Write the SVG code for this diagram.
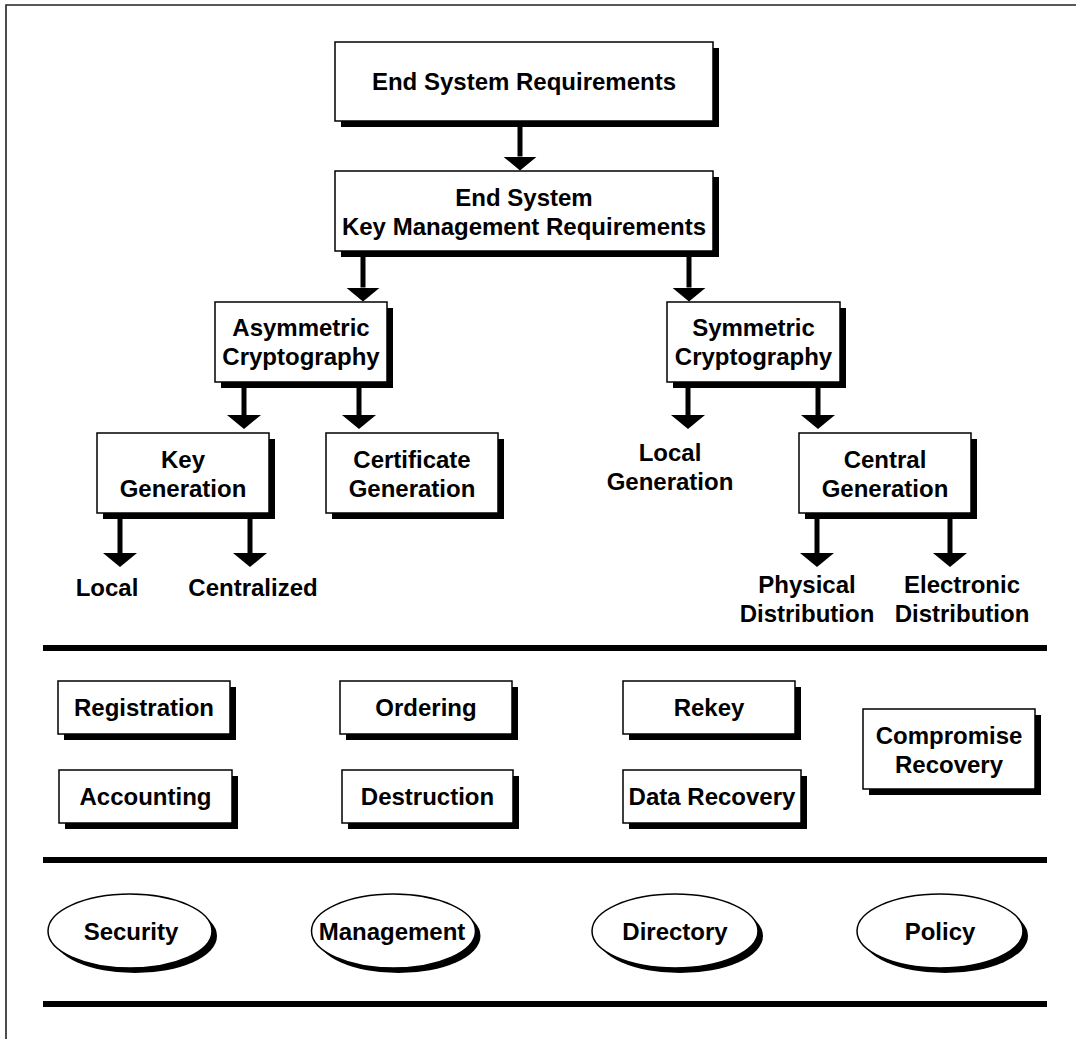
<svg xmlns="http://www.w3.org/2000/svg" width="1076" height="1039" viewBox="0 0 1076 1039">
<style>
.box{fill:#fff;stroke:#000;stroke-width:1.5}
.sh{fill:#000}
.t{font-family:"Liberation Sans",Arial,sans-serif;font-weight:bold;font-size:24px;fill:#000;text-anchor:middle}
.sep{stroke:#000;stroke-width:6}
.frame{stroke:#222;stroke-width:1.6;fill:none}
.ar{stroke:#000;stroke-width:5;fill:none;marker-end:url(#head)}
</style>
<defs>
<marker id="head" markerUnits="userSpaceOnUse" viewBox="0 -17 14 34" refX="0" refY="0" markerWidth="14" markerHeight="34" orient="auto">
<path d="M0,-17 L14,0 L0,17 Z" fill="#000"/>
</marker>
</defs>
<rect width="1076" height="1039" fill="#fff"/>
<path class="frame" d="M6,1039 V5 H1076"/>

<g id="separators">
<line class="sep" x1="43" y1="648" x2="1047" y2="648"/>
<line class="sep" x1="43" y1="860" x2="1047" y2="860"/>
<line class="sep" x1="43" y1="1004" x2="1047" y2="1004"/>
</g>

<g id="n-end-sys">
<rect class="sh" x="341" y="48" width="378" height="79"/>
<rect class="box" x="335" y="42" width="378" height="79"/>
<text class="t" x="524" y="90">End System Requirements</text>
</g>
<g id="n-keymgmt">
<rect class="sh" x="341" y="177" width="378" height="80"/>
<rect class="box" x="335" y="171" width="378" height="80"/>
<text class="t" x="524" y="206">End System</text>
<text class="t" x="524" y="235">Key Management Requirements</text>
</g>
<g id="n-asym">
<rect class="sh" x="221" y="308" width="172" height="80"/>
<rect class="box" x="215" y="302" width="172" height="80"/>
<text class="t" x="301" y="336">Asymmetric</text>
<text class="t" x="301" y="365">Cryptography</text>
</g>
<g id="n-sym">
<rect class="sh" x="673" y="308" width="173" height="80"/>
<rect class="box" x="667" y="302" width="173" height="80"/>
<text class="t" x="753.5" y="336">Symmetric</text>
<text class="t" x="753.5" y="365">Cryptography</text>
</g>
<g id="n-keygen">
<rect class="sh" x="103" y="439" width="172" height="80"/>
<rect class="box" x="97" y="433" width="172" height="80"/>
<text class="t" x="183" y="468">Key</text>
<text class="t" x="183" y="497">Generation</text>
</g>
<g id="n-certgen">
<rect class="sh" x="332" y="439" width="172" height="80"/>
<rect class="box" x="326" y="433" width="172" height="80"/>
<text class="t" x="412" y="468">Certificate</text>
<text class="t" x="412" y="497">Generation</text>
</g>
<g id="n-localgen">
<text class="t" x="670" y="461">Local</text>
<text class="t" x="670" y="490">Generation</text>
</g>
<g id="n-centralgen">
<rect class="sh" x="805" y="439" width="172" height="80"/>
<rect class="box" x="799" y="433" width="172" height="80"/>
<text class="t" x="885" y="468">Central</text>
<text class="t" x="885" y="497">Generation</text>
</g>
<g id="n-local">
<text class="t" x="107" y="596">Local</text>
</g>
<g id="n-centralized">
<text class="t" x="253" y="596">Centralized</text>
</g>
<g id="n-physdist">
<text class="t" x="807" y="593">Physical</text>
<text class="t" x="807" y="622">Distribution</text>
</g>
<g id="n-elecdist">
<text class="t" x="962" y="593">Electronic</text>
<text class="t" x="962" y="622">Distribution</text>
</g>

<g id="n-registration">
<rect class="sh" x="64" y="687" width="172" height="53"/>
<rect class="box" x="58" y="681" width="172" height="53"/>
<text class="t" x="144" y="716">Registration</text>
</g>
<g id="n-ordering">
<rect class="sh" x="346" y="687" width="172" height="53"/>
<rect class="box" x="340" y="681" width="172" height="53"/>
<text class="t" x="426" y="716">Ordering</text>
</g>
<g id="n-rekey">
<rect class="sh" x="629" y="687" width="172" height="53"/>
<rect class="box" x="623" y="681" width="172" height="53"/>
<text class="t" x="709" y="716">Rekey</text>
</g>
<g id="n-accounting">
<rect class="sh" x="65" y="776" width="173" height="53"/>
<rect class="box" x="59" y="770" width="173" height="53"/>
<text class="t" x="145.5" y="805">Accounting</text>
</g>
<g id="n-destruction">
<rect class="sh" x="348" y="776" width="171" height="53"/>
<rect class="box" x="342" y="770" width="171" height="53"/>
<text class="t" x="427.5" y="805">Destruction</text>
</g>
<g id="n-datarecovery">
<rect class="sh" x="629" y="776" width="178" height="53"/>
<rect class="box" x="623" y="770" width="178" height="53"/>
<text class="t" x="712" y="805">Data Recovery</text>
</g>
<g id="n-compromise">
<rect class="sh" x="869" y="715" width="172" height="80"/>
<rect class="box" x="863" y="709" width="172" height="80"/>
<text class="t" x="949" y="744">Compromise</text>
<text class="t" x="949" y="773">Recovery</text>
</g>

<g id="n-security">
<ellipse class="sh" cx="135" cy="936" rx="82" ry="37"/>
<ellipse class="box" cx="130" cy="931" rx="82" ry="37"/>
<text class="t" x="131" y="940">Security</text>
</g>
<g id="n-management">
<ellipse class="sh" cx="398.5" cy="936" rx="82" ry="37"/>
<ellipse class="box" cx="393.5" cy="931" rx="82" ry="37"/>
<text class="t" x="392" y="940">Management</text>
</g>
<g id="n-directory">
<ellipse class="sh" cx="680" cy="936" rx="83" ry="37"/>
<ellipse class="box" cx="675" cy="931" rx="83" ry="37"/>
<text class="t" x="675" y="940">Directory</text>
</g>
<g id="n-policy">
<ellipse class="sh" cx="945" cy="936" rx="83" ry="37"/>
<ellipse class="box" cx="940" cy="931" rx="83" ry="37"/>
<text class="t" x="940" y="940">Policy</text>
</g>

<g id="connectors">
<line class="ar" x1="520" y1="127" x2="520" y2="156.5"/>
<line class="ar" x1="363" y1="257" x2="363" y2="287.5"/>
<line class="ar" x1="689" y1="257" x2="689" y2="287.5"/>
<line class="ar" x1="244" y1="388" x2="244" y2="415"/>
<line class="ar" x1="359" y1="388" x2="359" y2="415"/>
<line class="ar" x1="688" y1="388" x2="688" y2="415"/>
<line class="ar" x1="818" y1="388" x2="818" y2="415"/>
<line class="ar" x1="120" y1="519" x2="120" y2="553"/>
<line class="ar" x1="250" y1="519" x2="250" y2="553"/>
<line class="ar" x1="817" y1="519" x2="817" y2="553"/>
<line class="ar" x1="950" y1="519" x2="950" y2="553"/>
</g>
</svg>
